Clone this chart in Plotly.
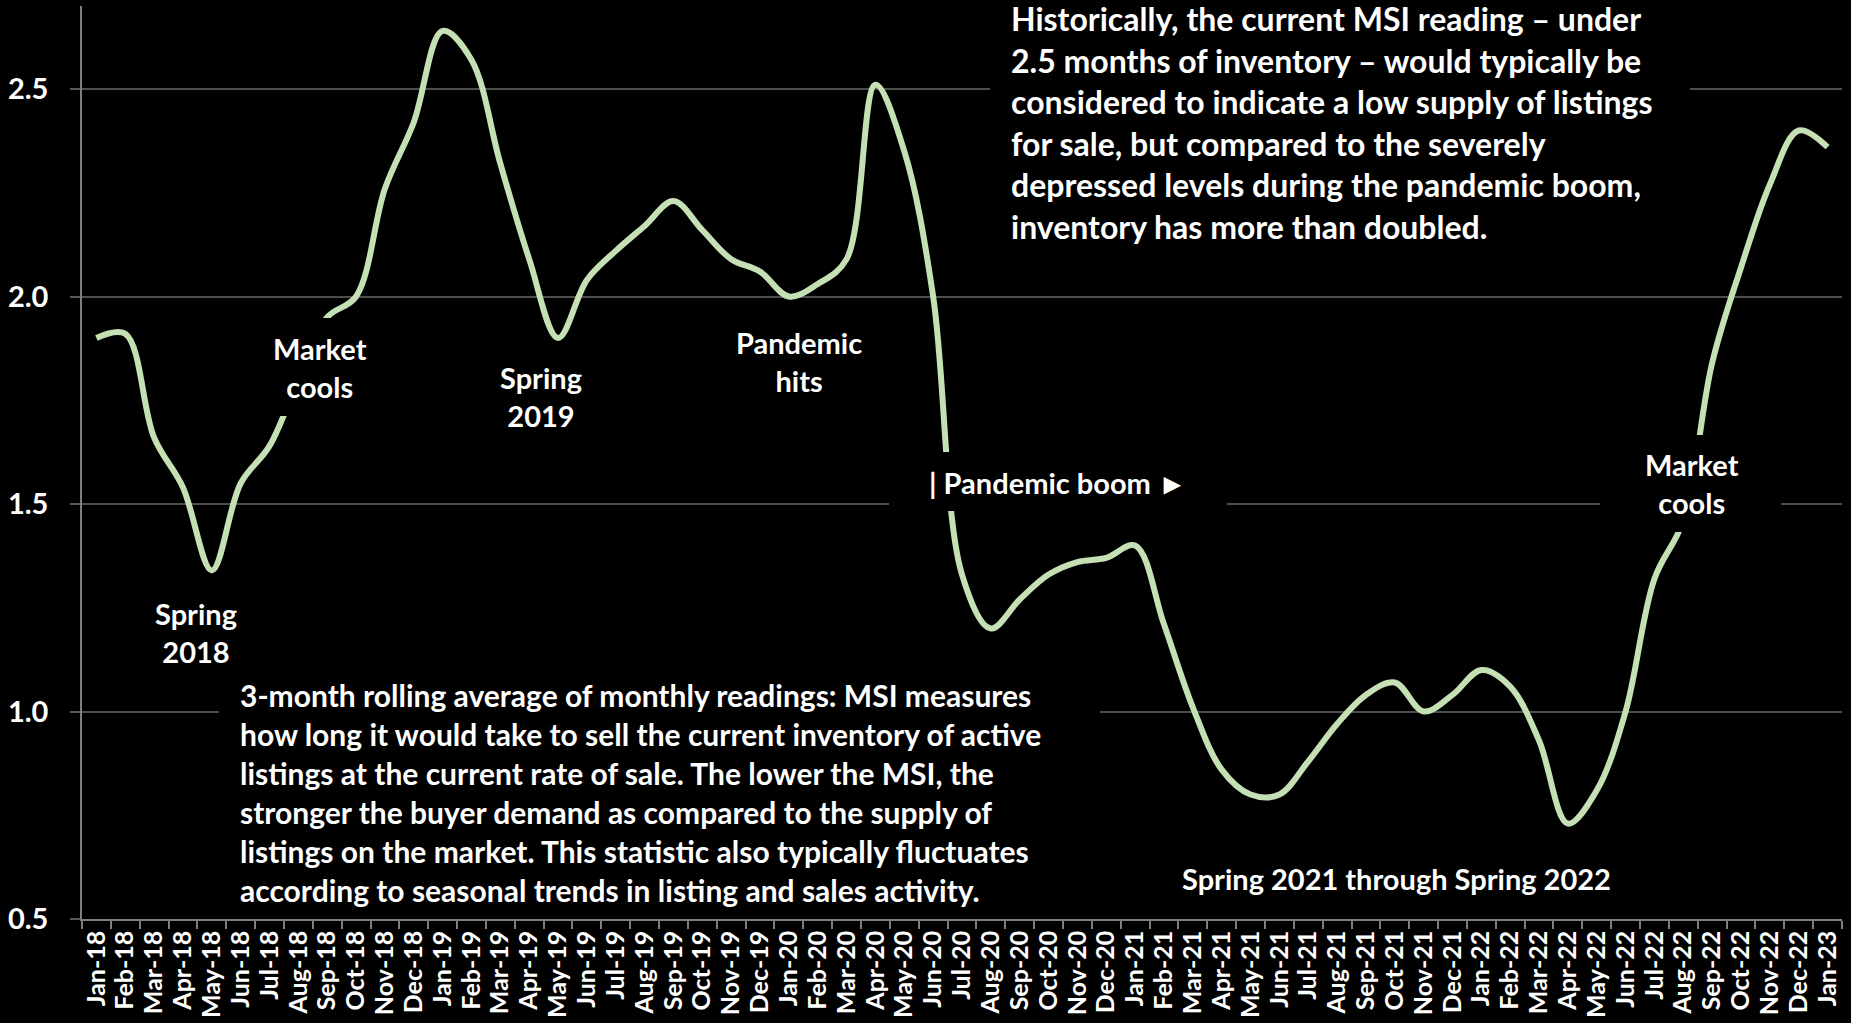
import plotly.graph_objects as go

# months supply of inventory, 3-month rolling average
months = ["Jan-18", "Feb-18", "Mar-18", "Apr-18", "May-18", "Jun-18", "Jul-18", "Aug-18", "Sep-18", "Oct-18", "Nov-18", "Dec-18",
          "Jan-19", "Feb-19", "Mar-19", "Apr-19", "May-19", "Jun-19", "Jul-19", "Aug-19", "Sep-19", "Oct-19", "Nov-19", "Dec-19",
          "Jan-20", "Feb-20", "Mar-20", "Apr-20", "May-20", "Jun-20", "Jul-20", "Aug-20", "Sep-20", "Oct-20", "Nov-20", "Dec-20",
          "Jan-21", "Feb-21", "Mar-21", "Apr-21", "May-21", "Jun-21", "Jul-21", "Aug-21", "Sep-21", "Oct-21", "Nov-21", "Dec-21",
          "Jan-22", "Feb-22", "Mar-22", "Apr-22", "May-22", "Jun-22", "Jul-22", "Aug-22", "Sep-22", "Oct-22", "Nov-22", "Dec-22",
          "Jan-23"]
msi = [1.90, 1.91, 1.66, 1.54, 1.34, 1.55, 1.64, 1.80, 1.95, 2.00, 2.26, 2.42,
       2.64, 2.57, 2.32, 2.09, 1.90, 2.04, 2.11, 2.17, 2.23, 2.16, 2.09, 2.06,
       2.00, 2.03, 2.09, 2.51, 2.35, 2.00, 1.33, 1.20, 1.27, 1.33, 1.36, 1.37,
       1.40, 1.21, 1.01, 0.86, 0.80, 0.80, 0.88, 0.97, 1.04, 1.07, 1.00, 1.04,
       1.10, 1.06, 0.93, 0.73, 0.81, 1.00, 1.32, 1.46, 1.84, 2.07, 2.27, 2.40,
       2.36]

y_ticks = [0.5, 1.0, 1.5, 2.0, 2.5]

callouts = ["Spring<br>2018", "Market<br>cools", "Spring<br>2019", "Pandemic<br>hits",
            "| Pandemic boom \u25ba", "Market<br>cools", "Spring 2021 through Spring 2022"]

note_top = ["Historically, the current MSI reading \u2013 under",
            "2.5 months of inventory \u2013 would typically be",
            "considered to indicate a low supply of listings",
            "for sale, but compared to the severely",
            "depressed levels during the pandemic boom,",
            "inventory has more than doubled."]
note_bottom = ["3-month rolling average of monthly readings: MSI measures",
               "how long it would take to sell the current inventory of active",
               "listings at the current rate of sale. The lower the MSI, the",
               "stronger the buyer demand as compared to the supply of",
               "listings on the market. This statistic also typically fluctuates",
               "according to seasonal trends in listing and sales activity."]

W, H = 1851, 1023
L, R, T, B = 82, 1842, 6, 919


def px(x):
    return (x - L) / (R - L)


def py(y):
    return (B - y) / (B - T)


fig = go.Figure()
fig.add_trace(go.Scatter(x=months, y=msi, mode="lines",
                         line=dict(color="#c5e0b4", width=6, shape="spline", smoothing=1)))

fig.update_layout(width=W, height=H, margin=dict(l=L, r=W - R, t=T, b=H - B),
                  paper_bgcolor="black", plot_bgcolor="black", showlegend=False,
                  font=dict(family="Lato", color="white"))

fig.update_xaxes(type="category", range=[-0.5, len(months) - 0.5], tickangle=-90,
                 tickmode="linear", tick0=0, dtick=1,
                 tickson="boundaries", ticks="outside", ticklen=8, tickwidth=1.5, tickcolor="#7f7f7f",
                 showline=True, linecolor="#7f7f7f", linewidth=1.5, showgrid=False,
                 tickfont=dict(size=25, weight="bold", color="white"))
fig.update_yaxes(range=[0.5, 2.7], tickvals=y_ticks, tickformat=".1f",
                 ticks="outside", ticklen=10, tickwidth=1.5, tickcolor="#595959",
                 showline=True, linecolor="#7f7f7f", linewidth=1.5,
                 gridcolor="#4d4d4d", gridwidth=1.5, zeroline=False, ticklabelstandoff=16,
                 tickfont=dict(size=29, weight="bold", color="white"))

# black text boxes that sit over the plot
boxes = [(229, 410, 318, 416), (889, 1227, 452, 511), (1600, 1781, 435, 532),
         (990, 1690, -5, 250), (219, 1100, 660, 917)]
for x0, x1, y0, y1 in boxes:
    fig.add_annotation(xref="paper", yref="paper", x=px((x0 + x1) / 2), y=py((y0 + y1) / 2),
                       xanchor="center", yanchor="middle", width=x1 - x0, height=y1 - y0,
                       text=" ", bgcolor="black", borderpad=0, borderwidth=0, showarrow=False)

callout_pos = [(196, 632), (320, 367), (541, 396), (799, 361), (1058, 482), (1692, 484), (1396, 878)]
for txt, (x, y) in zip(callouts, callout_pos):
    fig.add_annotation(xref="paper", yref="paper", x=px(x), y=py(y), xanchor="center", yanchor="middle",
                       text=txt, showarrow=False, align="center",
                       font=dict(size=29, weight="bold", color="white"))

fig.add_annotation(xref="paper", yref="paper", x=px(1009), y=py(123), xanchor="left", yanchor="middle",
                   text="<br>".join(note_top), showarrow=False, align="left",
                   font=dict(size=32, weight="bold", color="white"))
fig.add_annotation(xref="paper", yref="paper", x=px(238), y=py(792), xanchor="left", yanchor="middle",
                   text="<br>".join(note_bottom), showarrow=False, align="left",
                   font=dict(size=30, weight="bold", color="white"))

fig.write_html("out.html", config={"displayModeBar": False},
               post_script="document.body.style.margin='0';document.body.style.overflow='hidden';")
